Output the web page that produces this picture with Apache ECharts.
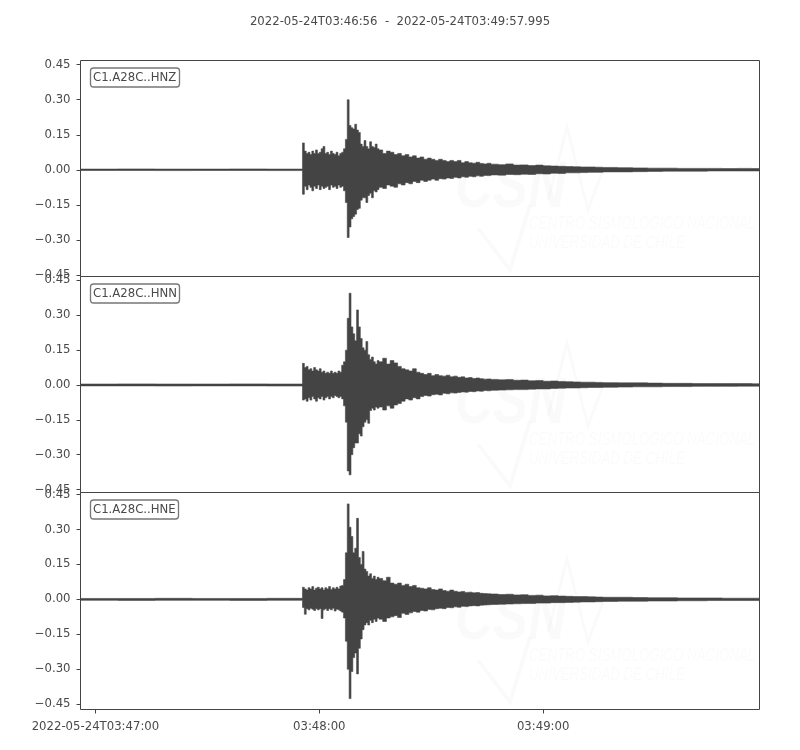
<!DOCTYPE html>
<html><head><meta charset="utf-8">
<script src="https://cdn.jsdelivr.net/npm/echarts@6/dist/echarts.min.js"></script>
<style>html,body{margin:0;padding:0;background:#fff}#c{width:800px;height:750px}</style>
</head><body><div id="c"></div>
<script>
// time origin: 2022-05-24T03:46:56 = 13616 s of day
const T0 = 13616;
const tEnd = 181.995;
const titleText = '2022-05-24T03:46:56  -  2022-05-24T03:49:57.995';
const channels = ['C1.A28C..HNZ', 'C1.A28C..HNN', 'C1.A28C..HNE'];

// x ticks (seconds of day) and their labels
const xTickValues = [13620, 13680, 13740];
const xTickLabels = ['2022-05-24T03:47:00', '03:48:00', '03:49:00'];
// y ticks
const yTickValues = [-0.45, -0.30, -0.15, 0, 0.15, 0.30, 0.45];
const yTickLabels = ['\u22120.45', '\u22120.30', '\u22120.15', '0.00', '0.15', '0.30', '0.45'];
const yRanges = [[-0.457, 0.468], [-0.463, 0.467], [-0.473, 0.459]];

// envelope bins (seconds after T0): each bin runs to the next start
const binStart = [0,10,20,30,40,50,
59.5,60,60.5,61,61.5,62,62.5,63,63.5,64,64.5,65,65.5,66,66.5,67,67.5,68,68.5,69,69.5,70,70.5,71,71.5,72,72.5,73,73.5,74,74.5,75,75.5,76,76.5,77,77.5,78,78.5,79,79.5,
80,81,82,83,84,85,86,87,88,89,90,91,92,93,94,95,96,97,98,99,100,101,102,103,104,105,106,107,108,109,
110,112,114,116,118,120,122,124,126,128,130,132,134,136,138,
140,144,148,152,156,160,164,168,172,176,180];

// HNZ
const hnzMax = [0.003,0.0035,0.003,0.003,0.0035,0.003,
0.115,0.08,0.07,0.075,0.065,0.08,0.07,0.085,0.07,0.075,
0.09,0.10,0.07,0.075,0.065,0.08,0.07,0.065,0.075,0.06,
0.07,0.075,0.09,0.13,0.30,0.19,0.18,0.175,0.195,0.17,
0.16,0.11,0.10,0.125,0.10,0.09,0.12,0.10,0.095,0.11,
0.09,
0.085,0.07,0.08,0.075,0.065,0.07,0.06,0.065,0.055,0.06,
0.05,0.055,0.045,0.05,0.045,0.04,0.045,0.04,0.035,0.04,
0.035,0.04,0.03,0.035,0.03,0.028,0.032,0.027,0.025,0.028,
0.024,0.022,0.025,0.02,0.021,0.018,0.02,0.017,0.016,0.015,0.014,0.013,0.012,0.012,0.011,
0.01,0.009,0.008,0.007,0.007,0.006,0.006,0.006,0.005,0.006,0.005];
const hnzMin = [-0.003,-0.003,-0.0035,-0.003,-0.003,-0.0035,
-0.105,-0.07,-0.085,-0.065,-0.075,-0.09,-0.07,-0.08,-0.065,-0.085,
-0.07,-0.08,-0.075,-0.07,-0.085,-0.065,-0.075,-0.07,-0.08,-0.065,
-0.075,-0.07,-0.09,-0.14,-0.29,-0.245,-0.21,-0.2,-0.19,-0.17,
-0.165,-0.13,-0.12,-0.12,-0.14,-0.11,-0.10,-0.12,-0.09,-0.095,
-0.085,
-0.075,-0.08,-0.065,-0.07,-0.075,-0.06,-0.065,-0.055,-0.06,-0.05,
-0.055,-0.045,-0.05,-0.045,-0.04,-0.045,-0.038,-0.04,-0.035,-0.037,
-0.032,-0.035,-0.03,-0.032,-0.028,-0.03,-0.026,-0.028,-0.024,-0.025,
-0.022,-0.023,-0.02,-0.021,-0.019,-0.02,-0.017,-0.018,-0.015,-0.016,-0.013,-0.013,-0.012,-0.011,-0.011,
-0.009,-0.009,-0.008,-0.007,-0.006,-0.006,-0.006,-0.005,-0.005,-0.005,-0.005];

// HNN
const hnnMax = [0.004,0.0045,0.004,0.004,0.0045,0.004,
0.093,0.075,0.08,0.065,0.07,0.06,0.075,0.065,0.06,0.07,
0.055,0.06,0.05,0.055,0.05,0.06,0.05,0.055,0.05,0.06,
0.055,0.085,0.10,0.15,0.287,0.395,0.25,0.22,0.19,0.323,
0.25,0.20,0.16,0.15,0.187,0.13,0.11,0.12,0.10,0.09,
0.105,
0.10,0.115,0.09,0.105,0.095,0.08,0.07,0.065,0.06,0.07,
0.055,0.05,0.045,0.05,0.04,0.045,0.04,0.038,0.042,0.035,
0.038,0.033,0.035,0.03,0.032,0.028,0.03,0.027,0.025,0.026,
0.024,0.022,0.023,0.02,0.021,0.018,0.019,0.016,0.017,0.015,0.014,0.013,0.012,0.012,0.011,
0.01,0.009,0.009,0.008,0.007,0.007,0.006,0.006,0.006,0.006,0.005];
const hnnMin = [-0.004,-0.004,-0.0045,-0.004,-0.004,-0.0045,
-0.065,-0.06,-0.07,-0.055,-0.065,-0.05,-0.06,-0.07,-0.055,-0.06,
-0.05,-0.065,-0.055,-0.05,-0.06,-0.05,-0.055,-0.045,-0.05,-0.055,
-0.05,-0.06,-0.09,-0.16,-0.37,-0.387,-0.30,-0.27,-0.25,-0.25,
-0.21,-0.22,-0.18,-0.16,-0.15,-0.165,-0.11,-0.10,-0.108,-0.095,
-0.10,
-0.095,-0.108,-0.09,-0.10,-0.086,-0.08,-0.07,-0.06,-0.065,-0.055,
-0.06,-0.05,-0.045,-0.048,-0.042,-0.04,-0.043,-0.036,-0.038,-0.034,
-0.035,-0.032,-0.03,-0.031,-0.028,-0.029,-0.026,-0.027,-0.024,-0.025,
-0.023,-0.022,-0.021,-0.02,-0.02,-0.018,-0.017,-0.017,-0.015,-0.014,-0.013,-0.013,-0.012,-0.011,-0.011,
-0.01,-0.009,-0.008,-0.008,-0.007,-0.007,-0.006,-0.006,-0.006,-0.005,-0.005];

// HNE
const hneMax = [0.004,0.004,0.0045,0.004,0.004,0.0045,
0.052,0.045,0.04,0.05,0.045,0.055,0.04,0.048,0.052,0.045,
0.05,0.04,0.05,0.045,0.055,0.042,0.05,0.045,0.052,0.045,
0.057,0.06,0.085,0.20,0.41,0.31,0.27,0.20,0.22,0.348,
0.18,0.15,0.206,0.13,0.12,0.10,0.11,0.09,0.10,0.085,
0.095,
0.09,0.08,0.095,0.07,0.065,0.07,0.06,0.065,0.055,0.06,
0.05,0.048,0.045,0.05,0.042,0.04,0.045,0.038,0.035,0.04,
0.035,0.032,0.034,0.03,0.031,0.028,0.029,0.026,0.025,0.024,
0.023,0.021,0.022,0.019,0.02,0.017,0.018,0.015,0.016,0.014,0.013,0.012,0.012,0.011,0.01,
0.009,0.009,0.008,0.007,0.007,0.006,0.006,0.006,0.005,0.005,0.005];
const hneMin = [-0.004,-0.0045,-0.004,-0.004,-0.0045,-0.004,
-0.035,-0.064,-0.04,-0.045,-0.038,-0.042,-0.048,-0.04,-0.045,-0.04,
-0.082,-0.045,-0.04,-0.048,-0.04,-0.045,-0.038,-0.05,-0.042,-0.045,
-0.05,-0.055,-0.08,-0.18,-0.30,-0.426,-0.31,-0.25,-0.23,-0.32,
-0.21,-0.17,-0.13,-0.11,-0.10,-0.11,-0.09,-0.10,-0.085,-0.095,
-0.08,
-0.085,-0.095,-0.08,-0.075,-0.07,-0.078,-0.06,-0.065,-0.058,-0.052,
-0.055,-0.048,-0.05,-0.043,-0.045,-0.04,-0.038,-0.04,-0.035,-0.036,
-0.032,-0.034,-0.03,-0.031,-0.028,-0.027,-0.028,-0.025,-0.024,-0.023,
-0.022,-0.021,-0.02,-0.019,-0.018,-0.018,-0.016,-0.016,-0.014,-0.014,-0.013,-0.012,-0.011,-0.011,-0.01,
-0.009,-0.008,-0.008,-0.007,-0.007,-0.006,-0.006,-0.005,-0.005,-0.005,-0.005];

const traces = [[hnzMin, hnzMax], [hnnMin, hnnMax], [hneMin, hneMax]];
const grids = [{top: 60.5, height: 216}, {top: 276.5, height: 216}, {top: 492.5, height: 217}];

const INK = '#444444';
const TXT = '#4a4a4a';
const FONT = '"DejaVu Sans", sans-serif';
const FS = 11.7;
const chart = echarts.init(document.getElementById('c'), null, {renderer: 'canvas'});

function makeRender(mins, maxs) {
  return function (params, api) {
    const top = [], bot = [];
    for (let i = 0; i < binStart.length; i++) {
      const s = T0 + binStart[i];
      const e = T0 + (i + 1 < binStart.length ? binStart[i + 1] : tEnd);
      top.push(api.coord([s, maxs[i]]), api.coord([e, maxs[i]]));
      bot.push(api.coord([s, mins[i]]), api.coord([e, mins[i]]));
    }
    const pts = top.concat(bot.reverse());
    return {type: 'polygon', shape: {points: pts},
      style: {fill: INK, stroke: INK, lineWidth: 0.6, lineJoin: 'miter'}};
  };
}

const option = {
  animation: false,
  backgroundColor: '#fff',
  title: [{
    text: titleText, left: 'center', top: 11,
    textStyle: {fontSize: FS, fontWeight: 'normal', color: TXT, fontFamily: FONT}
  }].concat(channels.map(function (c, i) {
    return {
      text: c, left: 90, top: grids[i].top + 7,
      padding: [3, 3, 3, 3],
      borderColor: '#777', borderWidth: 1.3, borderRadius: 3, backgroundColor: '#fff',
      textStyle: {fontSize: FS, fontWeight: 'normal', color: TXT, fontFamily: FONT, lineHeight: 14}
    };
  })),
  grid: grids.map(function (g) {
    return {left: 80.5, right: 40.5, top: g.top, height: g.height, show: true,
      borderColor: INK, borderWidth: 1, backgroundColor: 'transparent', containLabel: false};
  }),
  xAxis: grids.map(function (g, i) {
    const last = i === grids.length - 1;
    return {
      type: 'value', gridIndex: i, min: T0, max: T0 + tEnd, position: 'bottom',
      axisLine: {show: false, onZero: false},
      splitLine: {show: false},
      axisTick: {show: last, customValues: xTickValues, length: 4, lineStyle: {color: INK}},
      axisLabel: {show: last, customValues: xTickValues, margin: 11, fontSize: FS, color: TXT, fontFamily: FONT,
        formatter: function (v) { const k = xTickValues.indexOf(v); return k >= 0 ? xTickLabels[k] : ''; }}
    };
  }),
  yAxis: grids.map(function (g, i) {
    return {
      type: 'value', gridIndex: i, min: yRanges[i][0], max: yRanges[i][1],
      axisLine: {show: false, onZero: false},
      splitLine: {show: false},
      axisTick: {show: true, customValues: yTickValues, length: 4, lineStyle: {color: INK}},
      axisLabel: {show: true, customValues: yTickValues, margin: 10, fontSize: FS, color: TXT, fontFamily: FONT,
        formatter: function (v) {
          for (let k = 0; k < yTickValues.length; k++) if (Math.abs(yTickValues[k] - v) < 1e-9) return yTickLabels[k];
          return '';
        }}
    };
  }),
  graphic: [],
  series: traces.map(function (tr, i) {
    return {
      type: 'custom', xAxisIndex: i, yAxisIndex: i, clip: true,
      data: [[T0, 0]],
      renderItem: makeRender(tr[0], tr[1])
    };
  })
};

// faint watermark (decorative)
const WM = 'rgba(0,0,0,0.02)';
grids.forEach(function (g) {
  const dy = g.top - 60.5;
  option.graphic.push(
    {type: 'text', z: -1, x: 455, y: 157 + dy, scaleX: 0.82,
      style: {text: 'CSN', font: 'italic bold 64px "Liberation Sans", sans-serif', fill: WM}},
    {type: 'text', z: -1, x: 529, y: 214 + dy, scaleX: 0.70,
      style: {text: 'CENTRO SISMOLÓGICO NACIONAL', font: 'italic 19px "Liberation Sans", sans-serif', fill: WM}},
    {type: 'text', z: -1, x: 529, y: 233 + dy, scaleX: 0.70,
      style: {text: 'UNIVERSIDAD DE CHILE', font: 'italic 19px "Liberation Sans", sans-serif', fill: WM}},
    {type: 'polyline', z: -1, shape: {points: [[478, 228 + dy], [510, 270 + dy], [530, 205 + dy]]},
      style: {stroke: WM, lineWidth: 4, fill: null}},
    {type: 'polyline', z: -1, shape: {points: [[548, 200 + dy], [567, 127 + dy], [588, 210 + dy], [603, 170 + dy]]},
      style: {stroke: WM, lineWidth: 3, fill: null}}
  );
});

chart.setOption(option);
</script></body></html>
